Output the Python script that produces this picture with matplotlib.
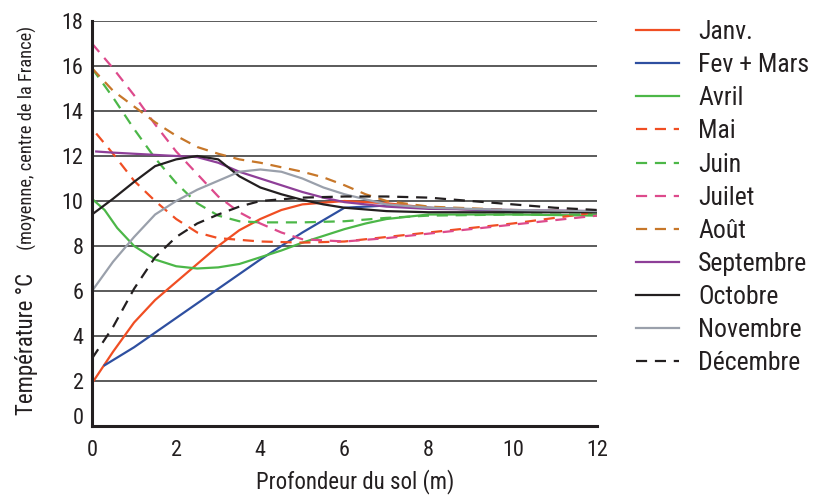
import numpy as np
import matplotlib.pyplot as plt
from matplotlib.transforms import ScaledTranslation

# police étroite, proche de l'original
plt.rcParams['font.family'] = ['Roboto Condensed', 'DejaVu Sans']

# profondeur (m) / température (°C)
janv_x = [0, 0.5, 1, 1.5, 2, 2.5, 3, 3.5, 4, 4.5, 5, 6, 7, 8, 10, 12]
janv_y = [1.9, 3.3, 4.6, 5.6, 6.4, 7.2, 8.0, 8.7, 9.2, 9.6, 9.85, 10.0, 9.9, 9.7, 9.55, 9.5]

fev_x = [0.3, 1, 2, 3, 4, 5, 6, 7, 8, 10, 12]
fev_y = [2.7, 3.5, 4.8, 6.1, 7.4, 8.6, 9.7, 9.8, 9.7, 9.55, 9.5]

avr_x = [0, 0.3, 0.6, 1, 1.5, 2, 2.5, 3, 3.5, 4, 4.5, 5, 5.5, 6, 6.5, 7, 8, 10, 12]
avr_y = [10.1, 9.6, 8.8, 8.0, 7.4, 7.1, 7.0, 7.05, 7.2, 7.5, 7.8, 8.15, 8.45, 8.75, 9.0, 9.2, 9.4, 9.4, 9.35]

mai_x = [0.1, 0.5, 1, 1.5, 2, 2.5, 3, 4, 5, 6, 7, 8, 9, 10, 11, 12]
mai_y = [13.0, 12.1, 10.9, 10.0, 9.2, 8.6, 8.35, 8.2, 8.15, 8.2, 8.4, 8.6, 8.8, 9.0, 9.25, 9.5]

juin_x = [0, 0.5, 1, 1.5, 2, 2.5, 3, 3.5, 4, 5, 6, 7, 8, 10, 12]
juin_y = [15.9, 14.6, 13.2, 11.9, 10.8, 9.9, 9.35, 9.1, 9.05, 9.05, 9.1, 9.25, 9.35, 9.4, 9.4]

juil_x = [0, 0.5, 1, 1.5, 2, 2.5, 3, 3.5, 4, 4.5, 5, 6, 7, 8, 9, 10, 11, 12]
juil_y = [17.0, 15.9, 14.7, 13.4, 12.2, 11.2, 10.2, 9.5, 9.0, 8.6, 8.3, 8.2, 8.35, 8.55, 8.75, 8.95, 9.15, 9.35]

aout_x = [0, 0.5, 1, 1.5, 2, 2.5, 3, 3.5, 4, 4.5, 5, 5.5, 6, 6.5, 7, 8, 10, 12]
aout_y = [15.9, 14.9, 14.2, 13.5, 12.9, 12.4, 12.1, 11.85, 11.7, 11.5, 11.3, 11.05, 10.7, 10.3, 10.0, 9.75, 9.6, 9.55]

sept_x = [0.1, 0.5, 1, 1.5, 2, 2.5, 3, 3.5, 4, 4.5, 5, 5.5, 6, 7, 8, 10, 12]
sept_y = [12.2, 12.15, 12.1, 12.05, 12.0, 11.95, 11.7, 11.3, 11.0, 10.7, 10.4, 10.15, 9.95, 9.75, 9.65, 9.6, 9.55]

oct_x = [0, 0.5, 1, 1.5, 2, 2.5, 3, 3.5, 4, 4.5, 5, 5.5, 6, 7, 8, 10, 12]
oct_y = [9.4, 10.1, 10.85, 11.55, 11.85, 12.0, 11.85, 11.1, 10.6, 10.3, 10.05, 9.85, 9.7, 9.55, 9.5, 9.5, 9.5]

nov_x = [0, 0.5, 1, 1.5, 2, 2.5, 3, 3.5, 4, 4.5, 5, 5.5, 6, 7, 8, 10, 12]
nov_y = [6.0, 7.3, 8.4, 9.4, 10.0, 10.5, 10.9, 11.3, 11.4, 11.3, 11.0, 10.6, 10.3, 9.85, 9.7, 9.6, 9.55]

dec_x = [0, 0.5, 1, 1.5, 2, 2.5, 3, 3.5, 4, 5, 6, 7, 8, 9, 10, 11, 12]
dec_y = [3.0, 4.4, 6.1, 7.5, 8.4, 9.0, 9.4, 9.75, 10.0, 10.15, 10.2, 10.2, 10.15, 10.0, 9.85, 9.7, 9.6]

series = [
    ('Janv.', janv_x, janv_y, '#f04e23', '-'),
    ('Fev + Mars', fev_x, fev_y, '#2e4fa0', '-'),
    ('Avril', avr_x, avr_y, '#4cb748', '-'),
    ('Mai', mai_x, mai_y, '#f04e23', '--'),
    ('Juin', juin_x, juin_y, '#4cb748', '--'),
    ('Juilet', juil_x, juil_y, '#dd4a8c', '--'),
    ('Août', aout_x, aout_y, '#c7772a', '--'),
    ('Septembre', sept_x, sept_y, '#8e3f98', '-'),
    ('Octobre', oct_x, oct_y, '#231f20', '-'),
    ('Novembre', nov_x, nov_y, '#9aa0ab', '-'),
    ('Décembre', dec_x, dec_y, '#231f20', '--'),
]

fig = plt.figure(figsize=(8.19, 4.96), dpi=100)
ax = fig.add_axes([92/819, 1-426/496, (597-92)/819, (426-21)/496])

for name, x, y, c, ls in series:
    if ls == '--':
        ax.plot(x, y, color=c, lw=1.6, dashes=(5, 3.5), label=name)
    else:
        ax.plot(x, y, color=c, lw=1.6, label=name)

ax.set_xlim(0, 12)
ax.set_ylim(0, 18)
ax.set_xticks(range(0, 13, 2))
ax.set_yticks(range(0, 19, 2))
ax.tick_params(length=0, labelsize=16, pad=6, colors='#231f20')
ax.tick_params(axis='x', pad=10)
ax.yaxis.grid(True, color='#5a5a5a', lw=1.4)
ax.set_axisbelow(True)
for s in ['top', 'right']:
    ax.spines[s].set_visible(False)
for s in ['left', 'bottom']:
    ax.spines[s].set_linewidth(2.2)
    ax.spines[s].set_color('#231f20')

# le "0" de l'axe y est remonté dans l'original
lab0 = ax.get_yticklabels()[0]
lab0.set_transform(lab0.get_transform() + ScaledTranslation(0, 0.1, fig.dpi_scale_trans))

fig.text(355/819, 1-488/496, 'Profondeur du sol (m)', ha='center', va='baseline',
         fontsize=16.5, color='#231f20')

fig.text(33/819, 1-415/496, 'Température °C', rotation=90, rotation_mode='anchor',
         ha='left', va='baseline', fontsize=16.5, color='#231f20')
fig.text(33/819, 1-254/496, ' (moyenne, centre de la France)', rotation=90, rotation_mode='anchor',
         ha='left', va='baseline', fontsize=13.2, color='#231f20')

leg = fig.legend(loc='upper left', bbox_to_anchor=(613/819, 1+3/496), frameon=False,
                 fontsize=18.5, labelspacing=0.355, handlelength=1.67, handletextpad=0.74)
for t in leg.get_texts():
    t.set_color('#231f20')

fig.savefig('out.png', dpi=100)
